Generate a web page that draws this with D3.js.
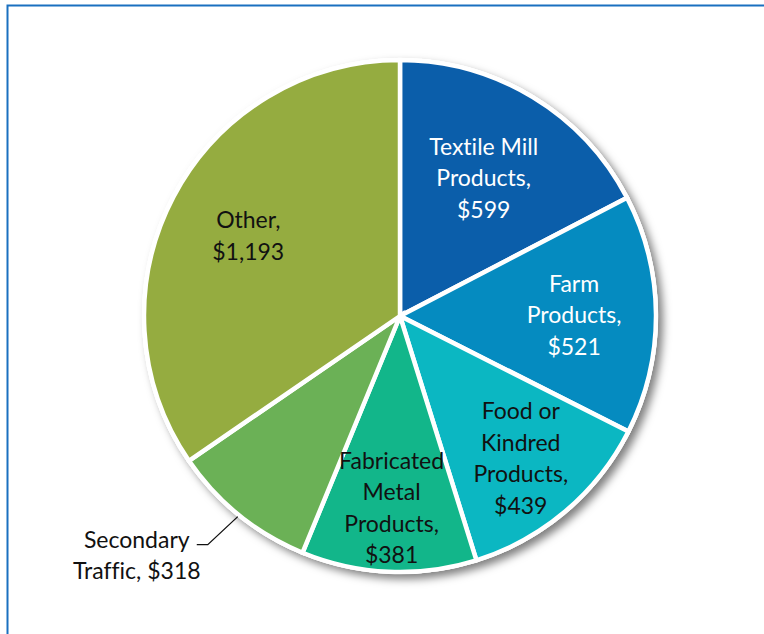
<!DOCTYPE html>
<html>
<head>
<meta charset="utf-8">
<script src="https://cdn.jsdelivr.net/npm/d3@7"></script>
<style>
  body { margin: 0; background: #fff; }
  svg { display: block; }
  text { font-family: Lato, "Open Sans", sans-serif; font-variant-ligatures: none; }
</style>
</head>
<body>
<div id="chart"></div>
<script>
// commodity groups, clockwise from 12 o'clock
var categories = ["Textile Mill Products", "Farm Products", "Food or Kindred Products",
                  "Fabricated Metal Products", "Secondary Traffic", "Other"];
var values = [599, 521, 439, 381, 318, 1193];
// label lines as printed on the chart
var labelLines = [
  ["Textile Mill", "Products,", "$599"],
  ["Farm", "Products,", "$521"],
  ["Food or", "Kindred", "Products,", "$439"],
  ["Fabricated", "Metal", "Products,", "$381"],
  ["Secondary", "Traffic, $318"],
  ["Other,", "$1,193"]
];
var colors = ["#0b5eaa", "#058bc0", "#0bb7c2", "#12b68a", "#6bb156", "#95ac40"];
var textColors = ["#fff", "#fff", "#111", "#111", "#111", "#111"];
var labelRadius = [0.63, 0.68, 0.73, 0.75, null, 0.67]; // fraction of radius, null = outside

var W = 764, H = 634;
var cx = 400, cy = 316, R = 256, lineH = 31.5, fs = 23;

var svg = d3.select('#chart').append('svg').attr('width', W).attr('height', H);

var defs = svg.append('defs');
var f = defs.append('filter').attr('id', 'shadow')
    .attr('x', '-20%').attr('y', '-20%').attr('width', '140%').attr('height', '140%');
f.append('feDropShadow').attr('dx', 5).attr('dy', 5).attr('stdDeviation', 4)
    .attr('flood-color', '#000').attr('flood-opacity', 0.5);

// frame + title (only its bottom edge shows)
svg.append('text').attr('x', 22).attr('y', -3)
    .attr('font-size', 17).attr('font-weight', 'bold').attr('fill', '#1f3864')
    .text('Figure 2. Average Freight Charges by Commodity Group ($M), 2012');
svg.append('path').attr('d', 'M7.5,' + H + 'V5.5H' + W)
    .attr('fill', 'none').attr('stroke', '#1a70c0').attr('stroke-width', 2);

var data = categories.map(function(c, i){ return {name: c, value: values[i], i: i}; });
var pie = d3.pie().sort(null).value(function(d){ return d.value; });
var arcs = pie(data);
var arc = d3.arc().innerRadius(0).outerRadius(R);

var g = svg.append('g').attr('transform', 'translate(' + cx + ',' + cy + ')');

// shadow disc underneath
g.append('circle').attr('r', R + 2).attr('fill', '#fff').attr('filter', 'url(#shadow)');

g.selectAll('path.slice').data(arcs).enter().append('path').classed('slice', true)
    .attr('d', arc)
    .attr('fill', function(d){ return colors[d.data.i]; })
    .attr('stroke', '#fff').attr('stroke-width', 4.5).attr('stroke-linejoin', 'miter');

// labels
arcs.forEach(function(a){
    var i = a.data.i;
    var lines = labelLines[i];
    var mid = (a.startAngle + a.endAngle) / 2;
    if (labelRadius[i] !== null) {
        var r = labelRadius[i] * R;
        var x = Math.sin(mid) * r, y = -Math.cos(mid) * r;
        var t = g.append('text').attr('text-anchor', 'middle')
            .attr('font-size', fs).attr('fill', textColors[i]);
        lines.forEach(function(l, k){
            t.append('tspan').attr('x', x)
                .attr('y', y + (k - (lines.length - 1) / 2) * lineH)
                .attr('dy', '0.35em').text(l);
        });
    } else {
        // leader line to outside label
        var p0 = [Math.sin(mid) * (R + 2), -Math.cos(mid) * (R + 2)];
        var p1 = [p0[0] - 30, p0[1] + 28];
        var p2 = [p1[0] - 11, p1[1]];
        g.append('path').attr('d', d3.line()([p0, p1, p2]))
            .attr('fill', 'none').attr('stroke', '#111').attr('stroke-width', 1.3);
        var tx = p2[0] - 60, ty = p2[1] - 5;
        var t2 = g.append('text').attr('text-anchor', 'middle')
            .attr('font-size', fs).attr('fill', textColors[i]);
        lines.forEach(function(l, k){
            t2.append('tspan').attr('x', tx).attr('y', ty + k * lineH).attr('dy', '0.35em').text(l);
        });
    }
});
</script>
</body>
</html>
